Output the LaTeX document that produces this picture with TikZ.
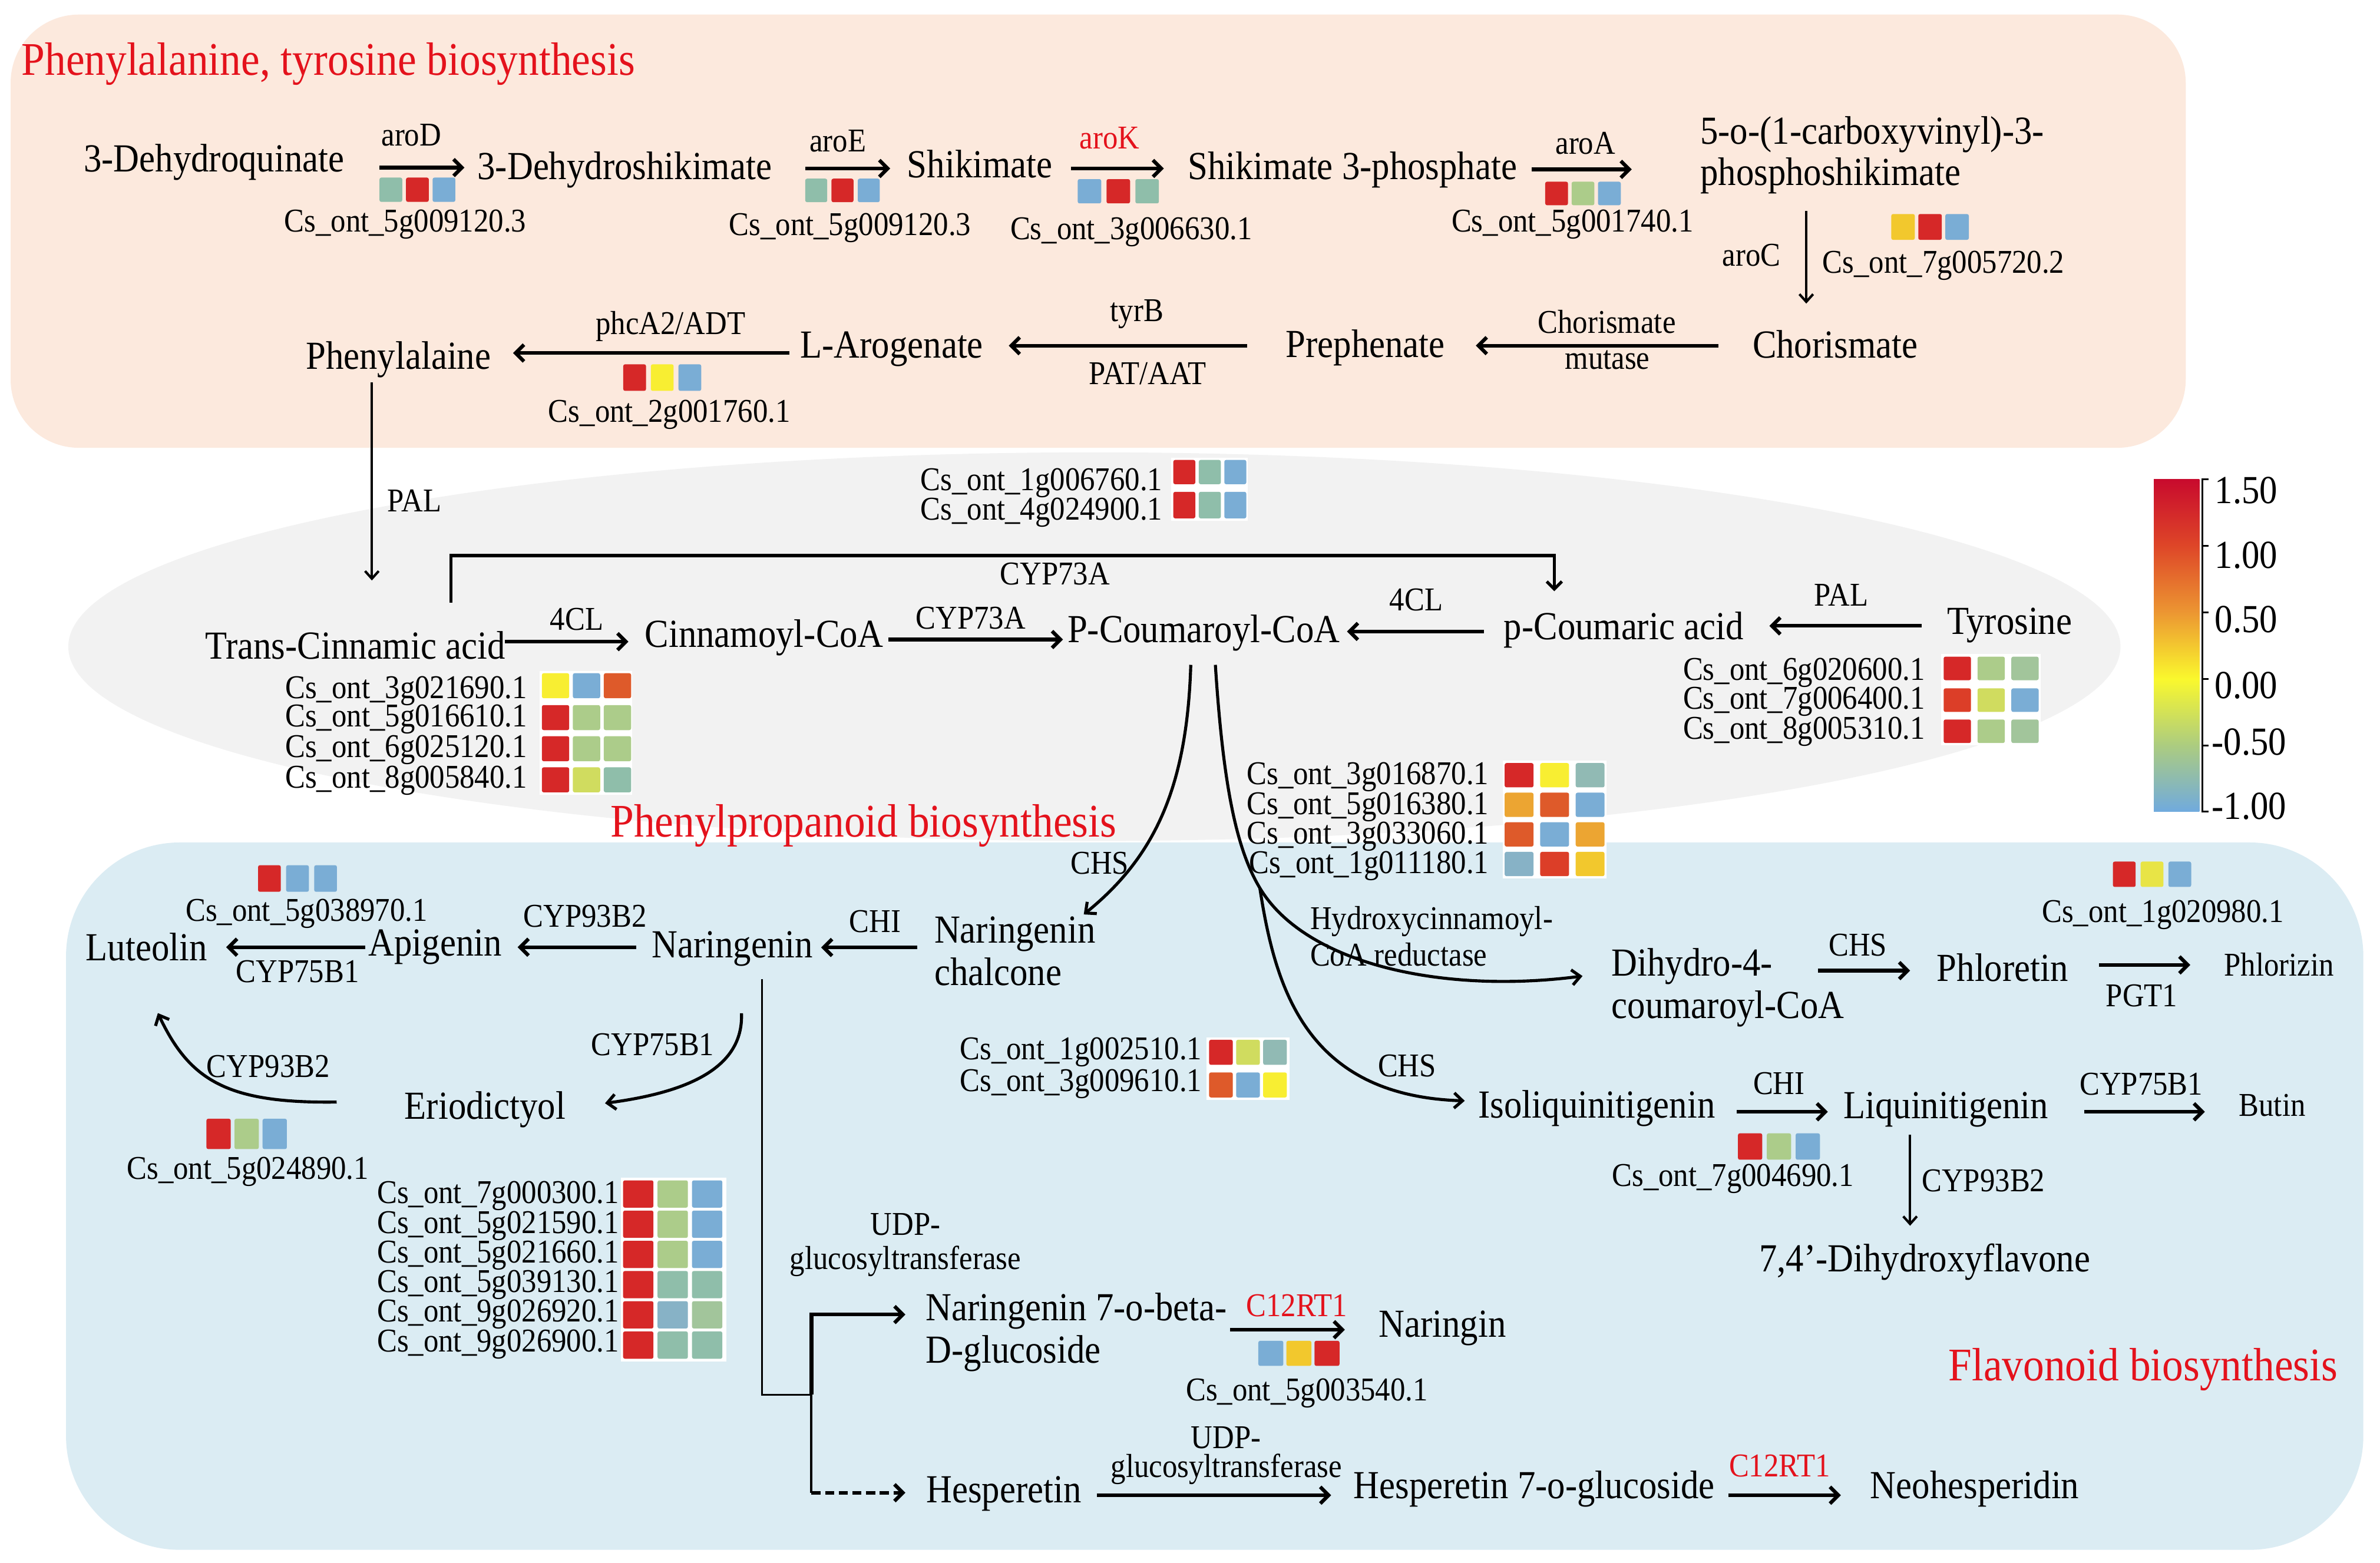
\documentclass[tikz,border=0pt]{standalone}
\usepackage{fontspec}
\setmainfont{Liberation Serif}[FakeStretch=0.9]
\usetikzlibrary{arrows.meta,calc}
\definecolor{cpeach}{RGB}{252,233,221}
\definecolor{cgrey}{RGB}{242,242,242}
\definecolor{cbg}{RGB}{219,236,243}
\definecolor{tred}{RGB}{228,18,28}
\definecolor{cred}{RGB}{214,40,40}
\definecolor{cblue}{RGB}{122,173,213}
\definecolor{cteal}{RGB}{143,190,170}
\definecolor{clg}{RGB}{172,204,138}
\definecolor{clgb}{RGB}{162,197,155}
\definecolor{cyel}{RGB}{248,238,50}
\definecolor{cyl}{RGB}{232,228,70}
\definecolor{cgold}{RGB}{242,200,45}
\definecolor{corg}{RGB}{236,165,50}
\definecolor{cored}{RGB}{222,90,42}
\definecolor{cored2}{RGB}{220,62,40}
\definecolor{cyg}{RGB}{208,220,95}
\definecolor{ctb}{RGB}{135,178,198}
\definecolor{ctg}{RGB}{145,186,180}
\definecolor{cbA}{RGB}{200,10,45}
\definecolor{cbB}{RGB}{222,70,40}
\definecolor{cbC}{RGB}{236,150,50}
\definecolor{cbD}{RGB}{250,248,45}
\definecolor{cbE}{RGB}{172,204,128}
\definecolor{cbF}{RGB}{112,170,222}
\pgfdeclareverticalshading{cbarshade}{100bp}{color(0bp)=(cbF); color(25bp)=(cbF); color(35bp)=(cbE); color(45bp)=(cbD); color(55bp)=(cbC); color(65bp)=(cbB); color(75bp)=(cbA); color(100bp)=(cbA)}
\newcommand{\fMain}{\fontsize{26.2}{30}\selectfont}
\newcommand{\fSmall}{\fontsize{21.9}{25}\selectfont}
\newcommand{\fTitle}{\fontsize{30.8}{34}\selectfont}
\newcommand{\trio}[8]{%
  \fill[#6,rounded corners=1.2pt] (#1,#2) rectangle ++(#3,#4);
  \fill[#7,rounded corners=1.2pt] ({#1+#5},#2) rectangle ++(#3,#4);
  \fill[#8,rounded corners=1.2pt] ({#1+2*#5},#2) rectangle ++(#3,#4);}
\begin{document}
\begin{tikzpicture}[x=1pt,y=-1pt,
  met/.style={font=\fMain, inner sep=0pt},
  enz/.style={font=\fSmall, inner sep=0pt},
  gid/.style={font=\fSmall, inner sep=0pt},
  ttl/.style={font=\fTitle, text=tred, inner sep=0pt, anchor=west},
  arr/.style={line width=2.4pt, -{Straight Barb[length=5.5pt,width=11pt]}},
  tarr/.style={line width=1.6pt, -{Straight Barb[length=5pt,width=9pt]}},
  barr/.style={line width=2pt, -{Straight Barb[length=5pt,width=10pt]}},
  carr/.style={line width=2pt, -{Straight Barb[length=5.5pt,width=10pt]}}]
\useasboundingbox (0,0) rectangle (1568,1029.3);
\fill[white] (0,0) rectangle (1568,1029.3);
% backgrounds
\fill[cgrey] (721,426) ellipse [x radius=676pt, y radius=128pt];
\fill[cpeach, rounded corners=45pt] (7,9.6) rectangle (1440,295);
\fill[cbg, rounded corners=75pt] (43.5,555) rectangle (1557,1021);

% ---------- top section ----------
\node[ttl] (t1) at (14,42) {Phenylalanine, tyrosine biosynthesis};
\node[met] (n1) at (141,107) {3-Dehydroquinate};
\node[met] (n2) at (411.5,112) {3-Dehydroshikimate};
\node[met] (n3) at (645.5,108) {Shikimate};
\node[met] (n4) at (891,112) {Shikimate 3-phosphate};
\node[met,anchor=base west] (n5a) at (1120,95) {5-o-(1-carboxyvinyl)-3-};
\node[met,anchor=base west] (n5b) at (1120,122) {phosphoshikimate};
\node[met] (chor) at (1209,227) {Chorismate};
\node[met] (preph) at (899.5,229) {Prephenate};
\node[met] (larog) at (587.5,230) {L-Arogenate};
\node[met] (phe) at (262.5,237) {Phenylalaine};

\node[enz] (eD) at (271,89) {aroD};
\node[enz] (eE) at (552,93) {aroE};
\node[enz,text=tred] (eK) at (731,91) {aroK};
\node[enz] (eA) at (1044.5,94.5) {aroA};
\node[enz] (eC) at (1154,168) {aroC};
\node[enz] (eCM1) at (1058.6,212) {Chorismate};
\node[enz] (eCM2) at (1059,237) {mutase};
\node[enz] (eT1) at (749,207) {tyrB};
\node[enz] (eT2) at (756,246) {PAT/AAT};
\node[enz] (ePh) at (441.8,215) {phcA2/ADT};
\node[enz] (ePAL) at (273,330) {PAL};

\node[gid] (g1) at (267,148) {Cs\_ont\_5g009120.3};
\node[gid] (g2) at (560,150) {Cs\_ont\_5g009120.3};
\node[gid] (g3) at (745.3,152.8) {Cs\_ont\_3g006630.1};
\node[gid] (g4) at (1036,148) {Cs\_ont\_5g001740.1};
\node[gid] (g5) at (1280.4,175) {Cs\_ont\_7g005720.2};
\node[gid] (g6) at (441,273) {Cs\_ont\_2g001760.1};

\trio{250}{117}{15}{16}{17.5}{cteal}{cred}{cblue}
\trio{530.5}{117.7}{14.5}{15.5}{17.3}{cteal}{cred}{cblue}
\trio{710}{118}{15.5}{16}{19}{cblue}{cred}{cteal}
\trio{1018}{119.7}{15}{15.5}{17.4}{cred}{clg}{cblue}
\trio{1246}{141}{15.5}{17}{17.8}{cgold}{cred}{cblue}
\trio{410.6}{240}{15}{17.5}{18.2}{cred}{cyel}{cblue}

% ---------- middle section ----------
\node[met] (tca) at (234,425) {Trans-Cinnamic acid};
\node[met] (cin) at (503.5,420) {Cinnamoyl-CoA};
\node[met] (pcoa) at (793,417) {P-Coumaroyl-CoA};
\node[met] (pca) at (1069.7,415) {p-Coumaric acid};
\node[met] (tyr) at (1324,412) {Tyrosine};
\node[enz] (eCY1) at (695,378) {CYP73A};
\node[enz] (e4a) at (380,408) {4CL};
\node[enz] (eCY2) at (639.5,407) {CYP73A};
\node[enz] (e4b) at (933,395) {4CL};
\node[enz] (ePAL2) at (1213,392) {PAL};
\node[ttl] (t2) at (402,544) {Phenylpropanoid biosynthesis};

% list above P-Coumaroyl-CoA
\fill[white] (771.5,301.5) rectangle (822,343);
\node[gid,anchor=east] (la1) at (766,318) {Cs\_ont\_1g006760.1};
\node[gid,anchor=east] (la2) at (766,337.5) {Cs\_ont\_4g024900.1};
\trio{773}{303}{14.5}{16}{16.8}{cred}{cteal}{cblue}
\trio{773}{324}{14.5}{17.5}{16.8}{cred}{cteal}{cblue}

% list under Trans-Cinnamic acid
\fill[white] (355.5,442) rectangle (416.5,523.5);
\node[gid,anchor=east] (lb1) at (347.5,455) {Cs\_ont\_3g021690.1};
\node[gid,anchor=east] (lb2) at (347.5,474) {Cs\_ont\_5g016610.1};
\node[gid,anchor=east] (lb3) at (347.5,494) {Cs\_ont\_6g025120.1};
\node[gid,anchor=east] (lb4) at (347.5,514) {Cs\_ont\_8g005840.1};
\trio{357}{443.5}{18}{16.5}{20.4}{cyel}{cblue}{cored}
\trio{357}{464.5}{18}{16.5}{20.4}{cred}{clg}{clg}
\trio{357}{485}{18}{16.5}{20.4}{cred}{clg}{clg}
\trio{357}{505.5}{18}{16.5}{20.4}{cred}{cyg}{cteal}

% list under Tyrosine
\fill[white] (1279,431) rectangle (1344.6,491);
\node[gid,anchor=east] (lc1) at (1268.4,443) {Cs\_ont\_6g020600.1};
\node[gid,anchor=east] (lc2) at (1268.4,462) {Cs\_ont\_7g006400.1};
\node[gid,anchor=east] (lc3) at (1268.4,482) {Cs\_ont\_8g005310.1};
\trio{1280.5}{432.6}{18}{15.5}{22.3}{cred}{clg}{clgb}
\trio{1280.5}{453.5}{18}{15.5}{22.3}{cored2}{cyg}{cblue}
\trio{1280.5}{474}{18}{15.5}{22.3}{cred}{clg}{clgb}

% CHS list
\fill[white] (990,501) rectangle (1058.4,578.7);
\node[gid,anchor=east] (ld1) at (981,512) {Cs\_ont\_3g016870.1};
\node[gid,anchor=east] (ld2) at (981,531.5) {Cs\_ont\_5g016380.1};
\node[gid,anchor=east] (ld3) at (981,551) {Cs\_ont\_3g033060.1};
\node[gid,anchor=east] (ld4) at (981,570.5) {Cs\_ont\_1g011180.1};
\trio{991.3}{502.7}{19}{16}{23.4}{cred}{cyel}{ctg}
\trio{991.3}{522.2}{19}{16}{23.4}{corg}{cored}{cblue}
\trio{991.3}{541.7}{19}{16}{23.4}{cored}{cblue}{corg}
\trio{991.3}{561.2}{19}{16}{23.4}{ctb}{cored2}{cgold}

% colour bar
\shade[shading=cbarshade] (1419,315.7) rectangle (1449,534.8);
\draw[line width=1.2pt] (1451,315.7) -- (1451,534.8);
\foreach \yy in {315.7,359.5,403.3,447.2,491,534.8} \draw[line width=1.2pt] (1450.4,\yy) -- (1455,\yy);
\node[met,anchor=west] (kA) at (1459,323) {1.50};
\node[met,anchor=west] (kB) at (1459,366) {1.00};
\node[met,anchor=west] (kC) at (1459,408.3) {0.50};
\node[met,anchor=west] (kD) at (1459,451.6) {0.00};
\node[met,anchor=west] (kE) at (1457,489) {-0.50};
\node[met,anchor=west] (kF) at (1457,531.3) {-1.00};

% ---------- bottom section ----------
\node[met,anchor=base west] (narc1) at (615.4,621) {Naringenin};
\node[met,anchor=base west] (narc2) at (615.4,649) {chalcone};
\node[met] (nar) at (482.5,625) {Naringenin};
\node[met] (api) at (286.7,624) {Apigenin};
\node[met] (lut) at (96.5,624) {Luteolin};
\node[met] (erio) at (319.6,731) {Eriodictyol};
\node[met,anchor=base west] (dh1) at (1061.6,643) {Dihydro-4-};
\node[met,anchor=base west] (dh2) at (1061.6,671) {coumaroyl-CoA};
\node[met] (phlt) at (1319.3,637.5) {Phloretin};
\node[met,font=\fSmall] (phlz) at (1501.5,635.5) {Phlorizin};
\node[met] (iso) at (1052,730) {Isoliquinitigenin};
\node[met] (liq) at (1282,731) {Liquinitigenin};
\node[met,font=\fSmall] (butin) at (1497,728) {Butin};
\node[met] (dhf) at (1268,831.5) {7,4’-Dihydroxyflavone};
\node[met,anchor=base west] (ng1) at (609.8,870) {Naringenin 7-o-beta-};
\node[met,anchor=base west] (ng2) at (609.8,898) {D-glucoside};
\node[met] (narg) at (950.3,875) {Naringin};
\node[met] (hesp) at (661.3,984) {Hesperetin};
\node[met] (h7g) at (1010.7,981) {Hesperetin 7-o-glucoside};
\node[met] (neoh) at (1301,981) {Neohesperidin};
\node[ttl] (t3) at (1283.5,902) {Flavonoid biosynthesis};

\node[enz] (eCHS1) at (724.5,568.7) {CHS};
\node[enz] (eCHI1) at (576.5,607) {CHI};
\node[enz] (e93a) at (385.4,603.6) {CYP93B2};
\node[enz] (e75a) at (196,640) {CYP75B1};
\node[enz] (e93b) at (176.7,702.5) {CYP93B2};
\node[enz] (e75b) at (430,688) {CYP75B1};
\node[enz,anchor=west] (eHy1) at (863,607) {Hydroxycinnamoyl-};
\node[enz,anchor=west] (eHy2) at (863,629) {CoA reductase};
\node[enz] (eCHS2) at (927,702) {CHS};
\node[enz] (eCHS3) at (1224,622.7) {CHS};
\node[enz] (ePGT) at (1411,656) {PGT1};
\node[enz] (eCHI2) at (1172,713.6) {CHI};
\node[enz] (e75c) at (1410.7,714) {CYP75B1};
\node[enz,anchor=west] (e93c) at (1266,778) {CYP93B2};
\node[enz] (eU1) at (596.6,806.6) {UDP-};
\node[enz] (eU2) at (596.5,830.8) {glucosyltransferase};
\node[enz,text=tred] (eC1) at (854.4,860) {C12RT1};
\node[enz] (eU3) at (807.7,947) {UDP-};
\node[enz] (eU4) at (808,968) {glucosyltransferase};
\node[enz,text=tred] (eC2) at (1172.5,965.5) {C12RT1};

\node[gid] (g7) at (202,602) {Cs\_ont\_5g038970.1};
\node[gid] (g8) at (163.3,772) {Cs\_ont\_5g024890.1};
\node[gid] (g9) at (861,918) {Cs\_ont\_5g003540.1};
\node[gid] (g10) at (1425,602.5) {Cs\_ont\_1g020980.1};
\node[gid] (g11) at (1141.7,776.7) {Cs\_ont\_7g004690.1};

\trio{170}{570}{15}{17.5}{18.5}{cred}{cblue}{cblue}
\trio{136}{737}{16}{20}{18.5}{cred}{clg}{cblue}
\trio{829}{883.3}{16.5}{16.5}{18.5}{cblue}{cgold}{cred}
\trio{1392}{567.6}{15}{16.7}{18.3}{cred}{cyl}{cblue}
\trio{1145}{746.6}{16}{17.4}{19}{cred}{clg}{cblue}

% UDP list
\fill[white] (409,776) rectangle (478.4,897);
\node[gid,anchor=east] (le1) at (408,788) {Cs\_ont\_7g000300.1};
\node[gid,anchor=east] (le2) at (408,807.5) {Cs\_ont\_5g021590.1};
\node[gid,anchor=east] (le3) at (408,827) {Cs\_ont\_5g021660.1};
\node[gid,anchor=east] (le4) at (408,846.5) {Cs\_ont\_5g039130.1};
\node[gid,anchor=east] (le5) at (408,866) {Cs\_ont\_9g026920.1};
\node[gid,anchor=east] (le6) at (408,885.7) {Cs\_ont\_9g026900.1};
\trio{410.5}{777.6}{20}{18}{22.7}{cred}{clg}{cblue}
\trio{410.5}{797.5}{20}{18}{22.7}{cred}{clg}{cblue}
\trio{410.5}{817.4}{20}{18}{22.7}{cred}{clg}{cblue}
\trio{410.5}{837.3}{20}{18}{22.7}{cred}{cteal}{cteal}
\trio{410.5}{857.2}{20}{18}{22.7}{cred}{ctb}{clgb}
\trio{410.5}{877.1}{20}{18}{22.7}{cred}{cteal}{cteal}

% list near Isoliquinitigenin
\fill[white] (795,683.5) rectangle (849.6,724.5);
\node[gid,anchor=east] (lf1) at (792,693) {Cs\_ont\_1g002510.1};
\node[gid,anchor=east] (lf2) at (792,714) {Cs\_ont\_3g009610.1};
\trio{796.6}{685}{15.6}{16.5}{17.8}{cred}{cyg}{ctg}
\trio{796.6}{706.5}{15.6}{16.5}{17.8}{cored}{cblue}{cyel}

% ---------- connectors ----------
\draw[arr] ($(n1)+(109,3.4)$) -- ($(n2)+(-105.5,-1.6)$);
\draw[arr] ($(n2)+(119,-1)$) -- ($(n3)+(-59,3)$);
\draw[arr] ($(n3)+(60,3)$) -- ($(n4)+(-124.2,-1)$);
\draw[arr] ($(n4)+(118,-0.4)$) -- ($(n5b.base west)+(-45,-10.4)$);
\draw[tarr] ($(n5b.base west)+(70,17)$) -- ($(chor)+(-19,-27)$);
\draw[arr] ($(chor)+(-77,0.7)$) -- ($(preph)+(72.8,-1.3)$);
\draw[arr] ($(preph)+(-78,-1.3)$) -- ($(larog)+(77.1,-2.3)$);
\draw[arr] ($(larog)+(-67.5,2.6)$) -- ($(phe)+(75.5,-4.4)$);
\draw[tarr] ($(phe)+(-17.5,15)$) -- ($(tca)+(11,-42.6)$);

\draw[barr] ($(tca)+(63,-28)$) -- ++(0,-31) -| ($(pca)+(-45.7,-25.5)$);
\draw[arr] ($(tca)+(98.6,-2.3)$) -- ($(cin)+(-89.5,2.7)$);
\draw[arr] ($(cin)+(81.7,1.3)$) -- ($(pcoa)+(-92.7,4.3)$);
\draw[arr] ($(pca)+(-92.2,1)$) -- ($(pcoa)+(94.4,-1)$);
\draw[arr] ($(tyr)+(-58,0.3)$) -- ($(pca)+(96,-2.7)$);

\draw[carr] ($(pcoa)+(-8.5,21)$) .. controls (782,520) and (760,565) .. ($(narc1.base west)+(98.6,-18.6)$);
\coordinate (split) at (830,585);
\draw[carr] ($(pcoa)+(7.7,21)$) .. controls (806,520) and (815,560) .. (split) .. controls (860,635) and (950,655) .. ($(dh1.base west)+(-19,0)$);
\draw[carr] (split) .. controls (840,650) and (860,722) .. ($(iso)+(-87,-4.8)$);

\draw[arr] ($(narc1.base west)+(-11,3.2)$) -- ($(nar)+(58.5,-0.8)$);
\draw[arr] ($(nar)+(-63.5,-1)$) -- ($(api)+(54.3,0)$);
\draw[arr] ($(api)+(-46,0)$) -- ($(lut)+(52.5,0)$);
\draw[carr] ($(erio)+(-97.8,-5)$) .. controls (150,727) and (125,712) .. ($(lut)+(7.5,43.4)$);
\draw[carr] ($(nar)+(6,42.5)$) .. controls (490,705) and (450,720) .. ($(erio)+(79,-4.2)$);

\coordinate (jn) at (534.6,918.8);
\coordinate (hc) at (534.6,983.4);
\draw[line width=1.4pt] ($(nar)+(19.5,20)$) |- (jn);
\draw[arr] (jn) |- ($(ng1.base west)+(-13.3,-4)$);
\draw[line width=1.6pt] (jn) -- (hc);
\draw[arr,dash pattern=on 6pt off 3pt] (hc) -- ($(hesp)+(-64.8,-0.6)$);

\draw[arr] ($(ng1.base west)+(200.6,6)$) -- ($(narg)+(-64.3,1)$);
\draw[arr] ($(hesp)+(61.4,1)$) -- ($(h7g)+(-133.7,4)$);
\draw[arr] ($(h7g)+(127.9,4)$) -- ($(neoh)+(-88.2,4)$);
\draw[arr] ($(dh1.base west)+(136.2,-3.6)$) -- ($(phlt)+(-60.9,1.9)$);
\draw[arr] ($(phlt)+(63.7,-1.8)$) -- ($(phlz)+(-58.5,0.2)$);
\draw[arr] ($(iso)+(92.3,2.4)$) -- ($(liq)+(-77.8,1.4)$);
\draw[arr] ($(liq)+(91,1.4)$) -- ($(butin)+(-44.4,4.4)$);
\draw[tarr] ($(liq)+(-23.6,16.4)$) -- ($(dhf)+(-9.6,-24)$);
\end{tikzpicture}
\end{document}
